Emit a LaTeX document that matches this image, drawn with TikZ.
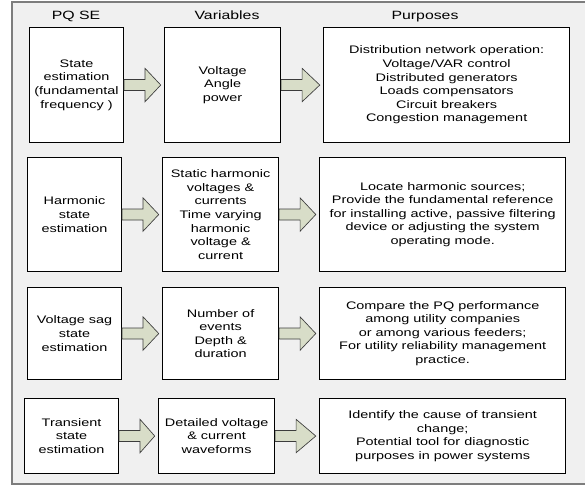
\documentclass[tikz,border=0pt]{standalone}
\usepackage{fontspec}
\setmainfont{Liberation Sans}[FakeStretch=1.32]
\usetikzlibrary{positioning, calc, backgrounds}

\definecolor{panelgray}{RGB}{240,240,240}
\definecolor{framegray}{RGB}{125,125,125}
\definecolor{flowgreen}{RGB}{216,221,200}
\definecolor{flowedge}{RGB}{60,60,60}

% block arrow from the east side of #1 towards the west side of #2
\newcommand{\flowarrow}[2]{%
  \draw[flow] let \p1=(#1.east), \p2=(#2.west) in
    (\x1,\y1+4.1pt) -- ++(15.75pt,0) -- ++(0,8.4pt) -- (\x2-2.5pt,\y1)
    -- (\x1+15.75pt,\y1-12.5pt) -- ++(0,8.4pt) -- (\x1,\y1-4.1pt) -- cycle;}

\begin{document}
\begin{tikzpicture}[
    x=0.75pt, y=-0.75pt,
    % Node styles
    cell/.style={
        rectangle, draw=black, fill=white, line width=0.8pt,
        align=center, inner sep=2pt,
        font=\fontsize{8.2}{10.2}\selectfont
    },
    estim/.style={cell, minimum width=70.5pt},
    quant/.style={cell, minimum width=87pt},
    aim/.style={cell, minimum width=184.5pt},
    heading/.style={anchor=base, font=\fontsize{9}{11}\selectfont},
    flow/.style={draw=flowedge, fill=flowgreen, line width=0.5pt, line join=miter},
    panel/.style={draw=framegray, fill=panelgray, line width=1.1pt},
    node distance=30pt
]
\useasboundingbox (0,0) rectangle (585,485);

% ============================================================
% Column headings
% ============================================================
\node[heading] (hse) at (76,20) {PQ SE};
\node[heading] (hvar) at (227,20) {Variables};
\node[heading] (hpur) at (425,20) {Purposes};

% ============================================================
% Rows: estimation -> variables -> purposes
% ============================================================

% -- Fundamental frequency --
\node[estim, minimum height=86.25pt, anchor=north west] at (29,27) (fundse)
    {State\\estimation\\(fundamental\\frequency )};
\node[quant, minimum height=86.25pt, right=30pt of fundse] (fundvar)
    {Voltage\\Angle\\power};
\node[aim, minimum height=86.25pt, right=31.5pt of fundvar] (fundpur)
    {Distribution network operation:\\Voltage/VAR control\\Distributed generators\\
     Loads compensators\\Circuit breakers\\Congestion management};

% -- Harmonics --
\node[estim, minimum height=85.5pt, anchor=north west] at (27,157) (harmse)
    {Harmonic\\state\\estimation};
\node[quant, minimum height=85.5pt, right=30pt of harmse] (harmvar)
    {Static harmonic\\voltages \&\\currents\\Time varying\\harmonic\\voltage \&\\current};
\node[aim, minimum height=85.5pt, right=30pt of harmvar] (harmpur)
    {Locate harmonic sources;\\Provide the fundamental reference\\
     for installing active, passive filtering\\device or adjusting the system\\
     operating mode.};

% -- Voltage sag --
\node[estim, minimum height=69pt, anchor=north west] at (27,287) (sagse)
    {Voltage sag\\state\\estimation};
\node[quant, minimum height=69pt, right=30pt of sagse] (sagvar)
    {Number of\\events\\Depth \&\\duration};
\node[aim, minimum height=69pt, right=30pt of sagvar] (sagpur)
    {Compare the PQ performance\\among utility companies\\or among various feeders;\\
     For utility reliability management\\practice.};

% -- Transients --
\node[estim, minimum height=56.25pt, anchor=north west] at (24,398) (transse)
    {Transient\\state\\estimation};
\node[quant, minimum height=56.25pt, right=29.25pt of transse] (transvar)
    {Detailed voltage\\\& current\\waveforms};
\node[aim, minimum height=56.25pt, right=33pt of transvar] (transpur)
    {Identify the cause of transient\\change;\\Potential tool for diagnostic\\
     purposes in power systems};

% ============================================================
% Block arrows
% ============================================================
\flowarrow{fundse}{fundvar}
\flowarrow{fundvar}{fundpur}

\flowarrow{harmse}{harmvar}
\flowarrow{harmvar}{harmpur}

\flowarrow{sagse}{sagvar}
\flowarrow{sagvar}{sagpur}

\flowarrow{transse}{transvar}
\flowarrow{transvar}{transpur}

% ============================================================
% Grey panel behind everything (right side runs off the page)
% ============================================================
\begin{scope}[on background layer]
    \draw[panel] (12,2) rectangle (596,484);
\end{scope}

\end{tikzpicture}
\end{document}
